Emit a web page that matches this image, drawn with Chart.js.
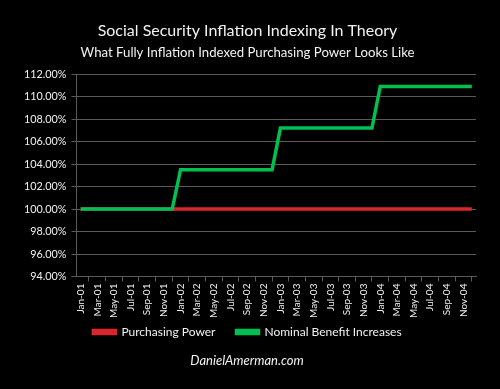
<!DOCTYPE html>
<html>
<head>
<meta charset="utf-8">
<script src="https://cdn.jsdelivr.net/npm/chart.js@4/dist/chart.umd.min.js"></script>
<style>
html,body{margin:0;padding:0;background:#000;}
#wrap{width:500px;height:389px;position:relative;}
</style>
</head>
<body>
<div id="wrap"><canvas id="c" width="500" height="389"></canvas></div>
<script>
const months = ['Jan','Feb','Mar','Apr','May','Jun','Jul','Aug','Sep','Oct','Nov','Dec'];
const years = ['01','02','03','04'];
const categories = [];
years.forEach(y => months.forEach(m => categories.push(m + '-' + y)));

const purchasingPower = [
  100,100,100,100,100,100,100,100,100,100,100,100,
  100,100,100,100,100,100,100,100,100,100,100,100,
  100,100,100,100,100,100,100,100,100,100,100,100,
  100,100,100,100,100,100,100,100,100,100,100,100
];
const nominalBenefit = [
  100,100,100,100,100,100,100,100,100,100,100,100,
  103.5,103.5,103.5,103.5,103.5,103.5,103.5,103.5,103.5,103.5,103.5,103.5,
  107.2,107.2,107.2,107.2,107.2,107.2,107.2,107.2,107.2,107.2,107.2,107.2,
  110.9,110.9,110.9,110.9,110.9,110.9,110.9,110.9,110.9,110.9,110.9,110.9
];
const yTicks = [94,96,98,100,102,104,106,108,110,112];

const FONT = 'Lato';
const TXT = '#f2f2f2';
const GRID = '#5a5a5a';
const LEGEND_FIT_PAD = 6;
const LEGEND_GAP = 21;

const footer = {
  id: 'footer',
  afterDraw(chart) {
    const ctx = chart.ctx;
    ctx.save();
    ctx.fillStyle = TXT;
    ctx.font = 'italic 13px ' + FONT;
    ctx.textAlign = 'center';
    ctx.textBaseline = 'middle';
    ctx.fillText('DanielAmerman.com', 247, 361);
    ctx.restore();
  }
};

// widen the horizontal gap between legend items without growing the legend vertically
const legendGap = {
  id: 'legendGap',
  afterLayout(chart) {
    const lg = chart.legend;
    if (!lg || !lg.lineWidths) return;
    try {
      lg.options.labels.padding = LEGEND_GAP;
      if (lg.options.labels.padding !== LEGEND_GAP) return;
      const d = LEGEND_GAP - LEGEND_FIT_PAD;
      lg.top -= d;
      lg.lineWidths[0] += d * chart.data.datasets.length;
    } catch (e) {}
  }
};

new Chart(document.getElementById('c'), {
  type: 'line',
  data: {
    labels: categories,
    datasets: [
      {label: 'Purchasing Power', data: purchasingPower, borderColor: '#d9262b', backgroundColor: '#d9262b', borderWidth: 3.5, pointRadius: 0, tension: 0, order: 2},
      {label: 'Nominal Benefit Increases', data: nominalBenefit, borderColor: '#00c050', backgroundColor: '#00c050', borderWidth: 3.5, pointRadius: 0, tension: 0, order: 1}
    ]
  },
  options: {
    responsive: false,
    animation: false,
    devicePixelRatio: 1,
    layout: {padding: {left: 19, right: 24, top: 6, bottom: 41}},
    plugins: {
      title: {display: true, text: 'Social Security Inflation Indexing In Theory', color: TXT, font: {family: FONT, size: 16, weight: 'normal'}, padding: {top: 15, bottom: 5}},
      subtitle: {display: true, text: 'What Fully Inflation Indexed Purchasing Power Looks Like', color: TXT, font: {family: FONT, size: 13.2, weight: 'normal'}, padding: {bottom: 13}},
      legend: {position: 'bottom', labels: {color: TXT, font: {family: FONT, size: 12}, boxWidth: 22, boxHeight: 3, padding: LEGEND_FIT_PAD, sort: (a, b) => a.datasetIndex - b.datasetIndex}},
      tooltip: {enabled: false}
    },
    scales: {
      x: {
        offset: true,
        grid: {offset: true, drawOnChartArea: false, drawTicks: true, tickLength: 5, color: GRID},
        border: {color: GRID},
        ticks: {
          autoSkip: false, maxRotation: 90, minRotation: 90, color: TXT, padding: 2,
          font: {family: FONT, size: 10},
          callback: function(v, i) { return i % 2 === 0 ? categories[i] : null; }
        }
      },
      y: {
        min: 94, max: 112,
        afterBuildTicks: s => { s.ticks = yTicks.map(v => ({value: v})); },
        grid: {color: GRID, tickLength: 5},
        border: {color: GRID},
        ticks: {color: TXT, font: {family: FONT, size: 10.8}, padding: 5, callback: v => v.toFixed(2) + '%'}
      }
    }
  },
  plugins: [footer, legendGap]
});
</script>
</body>
</html>
